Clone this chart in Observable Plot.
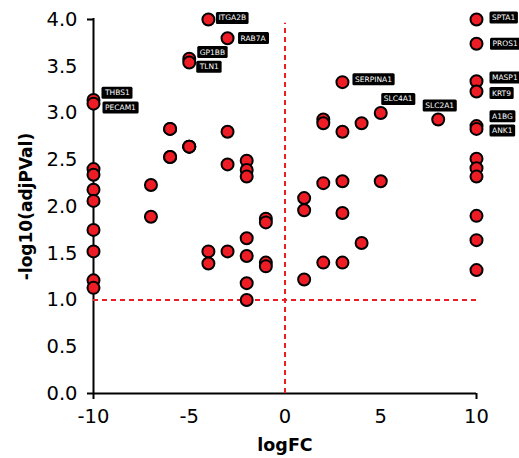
<!DOCTYPE html>
<html><head><meta charset="utf-8">
<script src="https://cdn.jsdelivr.net/npm/d3@7"></script>
<script src="https://cdn.jsdelivr.net/npm/@observablehq/plot@0.6"></script>
<style>body{margin:0;background:#fff}</style>
</head><body><div id="chart"></div>
<script>
// ---- data ----
const gene = [
  "THBS1","PECAM1","","","","","","","","",
  "","","","","","","","",
  "GP1BB","TLN1","",
  "ITGA2B","","",
  "RAB7A","","","",
  "","","","","","","",
  "","","","",
  "","","",
  "","","","",
  "SERPINA1","","","","",
  "","",
  "SLC4A1","",
  "SLC2A1",
  "SPTA1","PROS1","MASP1","KRT9","A1BG","ANK1","","","","","",""
];
const logFC = [
  -10,-10,-10,-10,-10,-10,-10,-10,-10,-10,
  -7,-7,-6,-6,-6,-6,-5,-5,
  -5,-5,-5,
  -4,-4,-4,
  -3,-3,-3,-3,
  -2,-2,-2,-2,-2,-2,-2,
  -1,-1,-1,-1,
  1,1,1,
  2,2,2,2,
  3,3,3,3,3,
  4,4,
  5,5,
  8,
  10,10,10,10,10,10,10,10,10,10,10,10
];
const negLogP = [
  3.14,3.10,2.40,2.34,2.18,2.06,1.75,1.52,1.21,1.13,
  2.23,1.89,2.83,2.53,2.83,2.53,2.64,2.64,
  3.58,3.54,2.64,
  4.00,1.52,1.39,
  3.80,2.80,2.45,1.52,
  2.49,2.39,2.32,1.66,1.47,1.18,1.00,
  1.87,1.83,1.40,1.36,
  2.09,1.96,1.22,
  2.93,2.89,2.25,1.40,
  3.33,2.80,2.27,1.93,1.40,
  2.89,1.61,
  3.00,2.27,
  2.93,
  4.00,3.74,3.34,3.23,2.86,2.83,2.51,2.41,2.32,1.90,1.64,1.32
];
const xTicks = [-10,-5,0,5,10];
const yTicks = [0,0.5,1,1.5,2,2.5,3,3.5,4];
const threshold = 1.0;
const xLabel = "logFC";
const yLabel = "-log10(adjPVal)";

// label placement offsets (px): [dx to text start, dy of text centre]
const labelOffset = {
  THBS1:[11.5,-7], PECAM1:[11.5,4], ITGA2B:[10,-1.5], RAB7A:[13,0],
  GP1BB:[10.5,-6.6], TLN1:[10.5,4.3], SERPINA1:[12.5,-2.7],
  SLC4A1:[3,-14], SLC2A1:[-13,-14],
  SPTA1:[15.5,-2], PROS1:[16,0], MASP1:[15.5,-3.7], KRT9:[15.5,1.6],
  A1BG:[15.5,-9.7], ANK1:[15.5,1.7]
};

const idx = d3.range(logFC.length);
const red = "#ee1c24";
const labelSet = new Set(gene.filter(g => g));

const labelMarks = idx.filter(i => gene[i]).map(i => Plot.text([i], {
  x: j => logFC[j], y: j => negLogP[j], text: j => gene[j],
  dx: labelOffset[gene[i]][0], dy: labelOffset[gene[i]][1],
  textAnchor: "start", lineAnchor: "middle",
  fill: "white", fontSize: 7.5
}));

const plot = Plot.plot({
  width: 519, height: 458,
  marginLeft: 93, marginRight: 43, marginTop: 19, marginBottom: 65,
  x: {domain: [-10, 10]},
  y: {domain: [0, 4]},
  style: {fontFamily: "DejaVu Sans", background: "white", overflow: "visible", color: "black"},
  marks: [
    Plot.axisX({ticks: xTicks, tickSize: 0, tickPadding: 16, fontSize: 19.5, tickFormat: d => String(d), label: null}),
    Plot.axisY({ticks: yTicks, tickSize: 0, tickPadding: 16, fontSize: 19.5, tickFormat: d3.format(".1f"), label: null}),
    Plot.axisX({ticks: [-10, 10], tickSize: 6, strokeWidth: 2, tickFormat: () => "", label: null}),
    Plot.axisY({ticks: [0, 4], tickSize: 6, strokeWidth: 2, tickFormat: () => "", label: null}),
    Plot.ruleY([0], {x1: -10, x2: 10, strokeWidth: 2, stroke: "black"}),
    Plot.ruleX([-10], {y1: 0, y2: 4, strokeWidth: 2, stroke: "black", strokeLinecap: "square"}),
    Plot.ruleY([threshold], {x1: -10, x2: 10, stroke: red, strokeWidth: 2, strokeDasharray: "5,4"}),
    Plot.ruleX([0], {y1: 0, y2: 3.96, stroke: red, strokeWidth: 2, strokeDasharray: "5,4"}),
    Plot.dot(idx, {x: i => logFC[i], y: i => negLogP[i], r: 6, fill: red, stroke: "black", strokeWidth: 2}),
    ...labelMarks,
    Plot.text([xLabel], {frameAnchor: "bottom", dy: 52, textAnchor: "middle", lineAnchor: "middle", fontSize: 17.5, fontWeight: "bold", fill: "black"}),
    Plot.text([yLabel], {frameAnchor: "left", dx: -67, rotate: -90, textAnchor: "middle", lineAnchor: "middle", fontSize: 17, fontWeight: "bold", fill: "black"})
  ]
});
document.getElementById("chart").appendChild(plot);

// black rounded boxes behind gene labels
plot.querySelectorAll('text').forEach(t => {
  if (!labelSet.has(t.textContent)) return;
  const b = t.getBBox();
  const r = document.createElementNS("http://www.w3.org/2000/svg", "rect");
  r.setAttribute("x", b.x - 2.5);
  r.setAttribute("y", b.y - 1.5);
  r.setAttribute("width", b.width + 5);
  r.setAttribute("height", b.height + 3);
  r.setAttribute("rx", 1.5);
  r.setAttribute("fill", "black");
  if (t.getAttribute("transform")) r.setAttribute("transform", t.getAttribute("transform"));
  t.parentNode.insertBefore(r, t);
});
</script>
</body></html>
